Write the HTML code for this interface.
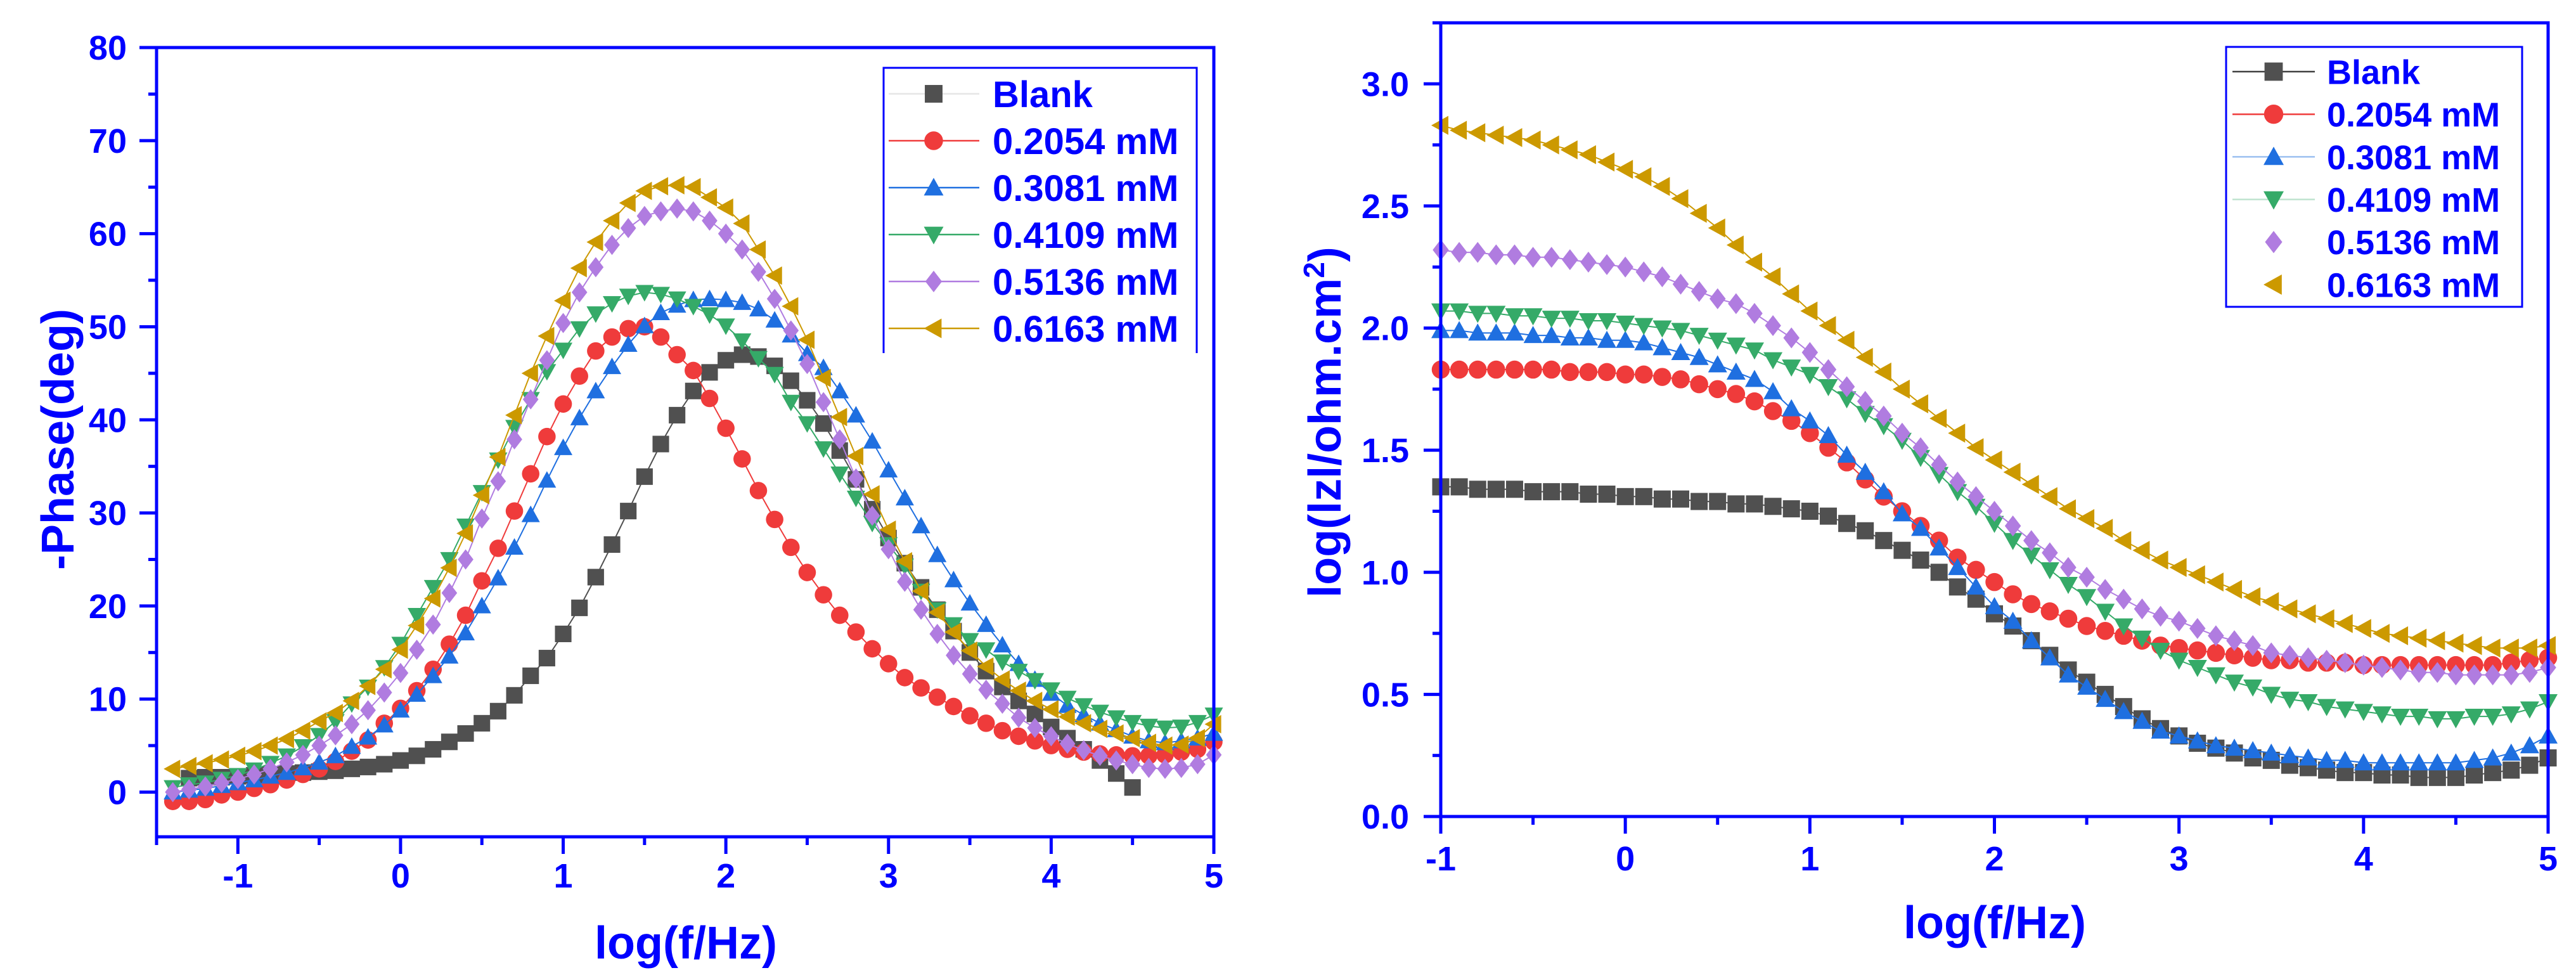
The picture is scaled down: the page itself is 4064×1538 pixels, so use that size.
<!DOCTYPE html>
<html><head><meta charset="utf-8"><style>
html,body{margin:0;padding:0;background:#fff;}
svg{display:block;font-family:"Liberation Sans",Arial,sans-serif;font-weight:bold;}
</style></head><body>
<svg id="chart" xmlns="http://www.w3.org/2000/svg" width="4064" height="1538" viewBox="0 0 4064 1538">
<rect x="0" y="0" width="4064" height="1538" fill="#fff"/>
</svg>
<script>
// ---------- data ----------
const seriesNames = ["Blank","0.2054 mM","0.3081 mM","0.4109 mM","0.5136 mM","0.6163 mM"];
const seriesColors = ["#505050","#ef3b3b","#1f6fe0","#35aa68","#b07ce0","#cc9900"];
const seriesMarkers = ["square","circle","up","down","diamond","left"];

// Phase plot: x starts (log f), step 0.1
const phaseStart = [-1.3,-1.4,-1.4,-1.4,-1.4,-1.4];
const phaseBlank = [1.5,1.6,1.6,1.7,1.8,1.9,2.0,2.1,2.2,2.3,2.5,2.7,3.0,3.4,3.9,4.6,5.4,6.3,7.4,8.7,10.4,12.5,14.4,17,19.8,23.1,26.6,30.2,33.9,37.4,40.5,43.1,45.1,46.4,47,46.8,45.8,44.2,42.1,39.6,36.7,33.6,30.4,27.3,24.6,22.0,19.6,17.3,15.0,13.0,11.3,9.8,8.4,7,5.8,4.6,3.4,2.0,0.5];
const phaseC1 = [-1.0,-1.0,-0.8,-0.3,0,0.4,0.8,1.3,1.9,2.5,3.3,4.4,5.6,7.4,9.0,10.9,13.2,15.9,19.0,22.7,26.2,30.2,34.2,38.2,41.7,44.7,47.4,48.9,49.8,50,48.9,47,45.3,42.3,39.1,35.8,32.4,29.3,26.3,23.6,21.2,19.0,17.2,15.4,13.8,12.3,11.2,10.2,9.2,8.2,7.4,6.6,6.0,5.5,5.0,4.6,4.3,4.1,4.0,3.9,3.9,4.0,4.3,4.6,5.4];
const phaseC2 = [0,0.2,0.4,0.7,1.0,1.3,1.7,2.1,2.6,3.2,3.9,4.9,5.9,7.2,8.8,10.5,12.5,14.6,17.1,20.0,23.0,26.3,29.8,33.5,37.0,40.2,43.1,45.7,48.1,50.1,51.5,52.3,52.9,53.0,52.9,52.6,51.9,50.7,49.1,47.1,45.6,43.1,40.5,37.7,34.6,31.6,28.6,25.5,22.8,20.3,18.0,15.8,13.8,12.1,10.6,9.3,8.3,7.4,6.7,6.0,5.5,5.3,5.5,5.8,6.3];
const phaseC3 = [0.5,0.8,1.0,1.4,1.8,2.4,3.1,3.9,4.9,6.1,7.6,9.5,11.3,13.4,15.9,19.0,22.0,25.0,28.6,32.2,35.7,39.2,42.2,45.2,47.5,49.8,51.4,52.5,53.3,53.7,53.5,53.0,52.2,51.3,50.1,48.5,46.6,44.9,41.9,39.6,36.9,34.2,31.6,28.9,26.6,24.3,21.6,19.6,18.0,16.3,15.3,14.0,13.0,12.0,11.0,10.1,9.3,8.6,8.0,7.5,7.1,6.9,7.0,7.5,8.3];
const phaseC4 = [0,0.3,0.6,1.0,1.4,1.9,2.5,3.2,4.0,5.0,6.1,7.3,8.8,10.7,12.8,15.3,18.0,21.4,25.0,29.4,33.4,37.9,42.2,46.4,50.4,53.7,56.4,58.8,60.6,61.9,62.4,62.7,62.4,61.4,60.0,58.3,55.9,53.0,49.6,46.0,41.9,37.9,33.7,29.7,26.1,22.6,19.6,17.0,14.7,12.7,11.0,9.5,8.0,6.9,6.0,5.2,4.5,3.9,3.4,3.0,2.6,2.5,2.6,3.0,4.0];
const phaseC5 = [2.5,2.8,3.1,3.5,3.9,4.4,5.0,5.7,6.6,7.6,8.5,9.8,11.4,13.2,15.3,17.9,20.8,24.1,27.8,31.9,36.0,40.5,45.0,49.0,52.8,56.3,59.1,61.4,63.3,64.6,65.1,65.2,65.0,63.9,62.8,61.1,58.3,55.5,52.2,48.6,44.5,40.3,36.1,32.0,28.2,24.8,21.6,19.3,17.2,15.2,13.5,12.1,10.9,9.8,8.9,8.1,7.4,6.8,6.3,5.8,5.3,5.0,5.1,5.8,7.3];

// Impedance plot: x from -1 to 5 step 0.1
const zStart = -1.0;
const zBlank = [1.35,1.35,1.34,1.34,1.34,1.33,1.33,1.33,1.32,1.32,1.31,1.31,1.30,1.30,1.29,1.29,1.28,1.28,1.27,1.26,1.25,1.23,1.20,1.17,1.13,1.09,1.05,1.00,0.94,0.89,0.83,0.78,0.72,0.66,0.60,0.55,0.50,0.45,0.40,0.36,0.33,0.30,0.28,0.26,0.24,0.23,0.21,0.20,0.19,0.18,0.18,0.17,0.17,0.16,0.16,0.16,0.17,0.18,0.19,0.21,0.24];
const zC1 = [1.83,1.83,1.83,1.83,1.83,1.83,1.83,1.82,1.82,1.82,1.81,1.81,1.80,1.79,1.77,1.75,1.73,1.70,1.66,1.62,1.57,1.51,1.45,1.38,1.31,1.25,1.19,1.13,1.06,1.01,0.96,0.91,0.87,0.84,0.81,0.78,0.76,0.74,0.72,0.70,0.69,0.68,0.67,0.66,0.65,0.64,0.64,0.63,0.63,0.63,0.62,0.62,0.62,0.62,0.62,0.62,0.62,0.62,0.63,0.64,0.65];
const zC2 = [1.99,1.99,1.98,1.98,1.98,1.97,1.97,1.96,1.96,1.95,1.95,1.94,1.92,1.90,1.88,1.85,1.82,1.79,1.74,1.67,1.62,1.56,1.48,1.41,1.33,1.24,1.18,1.10,1.02,0.94,0.86,0.80,0.72,0.65,0.58,0.53,0.48,0.43,0.39,0.35,0.33,0.31,0.29,0.28,0.27,0.26,0.25,0.24,0.23,0.23,0.22,0.22,0.22,0.22,0.22,0.22,0.23,0.24,0.26,0.29,0.33];
const zC3 = [2.07,2.07,2.06,2.06,2.05,2.05,2.04,2.04,2.03,2.03,2.02,2.01,2.00,1.99,1.97,1.95,1.93,1.91,1.87,1.84,1.81,1.76,1.71,1.65,1.60,1.54,1.47,1.40,1.33,1.27,1.20,1.13,1.07,1.01,0.95,0.90,0.84,0.78,0.73,0.68,0.64,0.61,0.58,0.55,0.53,0.50,0.48,0.47,0.45,0.44,0.43,0.42,0.41,0.41,0.40,0.40,0.41,0.41,0.42,0.44,0.47];
const zC4 = [2.32,2.31,2.31,2.30,2.30,2.29,2.29,2.28,2.27,2.26,2.25,2.23,2.21,2.18,2.15,2.12,2.10,2.06,2.01,1.96,1.90,1.83,1.76,1.70,1.64,1.57,1.51,1.44,1.37,1.31,1.25,1.19,1.13,1.08,1.02,0.98,0.93,0.89,0.85,0.82,0.80,0.77,0.74,0.72,0.70,0.67,0.66,0.65,0.64,0.63,0.62,0.61,0.60,0.59,0.59,0.58,0.58,0.58,0.58,0.59,0.61];
const zC5 = [2.83,2.81,2.80,2.79,2.78,2.77,2.75,2.73,2.71,2.68,2.65,2.62,2.58,2.53,2.47,2.41,2.34,2.27,2.21,2.14,2.07,2.01,1.95,1.88,1.82,1.75,1.69,1.63,1.57,1.51,1.46,1.41,1.36,1.31,1.26,1.22,1.18,1.13,1.09,1.05,1.02,0.99,0.96,0.93,0.90,0.88,0.85,0.83,0.81,0.79,0.77,0.75,0.74,0.73,0.72,0.71,0.70,0.69,0.69,0.69,0.70];

const phaseXTicks = [-1,0,1,2,3,4,5];
const phaseYTicks = [0,10,20,30,40,50,60,70,80];
const zXTicks = [-1,0,1,2,3,4,5];
const zYTicks = [0.0,0.5,1.0,1.5,2.0,2.5,3.0];

// ---------- drawing ----------
const NS = "http://www.w3.org/2000/svg";
const svg = document.getElementById("chart");
const AX = "#0000ff";
function mk(tag, attrs, parent){
  const e = document.createElementNS(NS, tag);
  for (const k in attrs) e.setAttribute(k, attrs[k]);
  (parent||svg).appendChild(e);
  return e;
}
function marker(g, type, cx, cy, s, color){
  const h = s/2;
  let e;
  if (type==="square") e = mk("rect",{x:cx-h*0.9,y:cy-h*0.9,width:s*0.9,height:s*0.9,fill:color},g);
  else if (type==="circle") e = mk("circle",{cx:cx,cy:cy,r:h*0.95,fill:color},g);
  else if (type==="up") e = mk("polygon",{points:`${cx},${cy-h} ${cx+h},${cy+h*0.8} ${cx-h},${cy+h*0.8}`,fill:color},g);
  else if (type==="down") e = mk("polygon",{points:`${cx},${cy+h} ${cx+h},${cy-h*0.8} ${cx-h},${cy-h*0.8}`,fill:color},g);
  else if (type==="diamond") e = mk("polygon",{points:`${cx},${cy-h*1.1} ${cx+h*0.85},${cy} ${cx},${cy+h*1.1} ${cx-h*0.85},${cy}`,fill:color},g);
  else e = mk("polygon",{points:`${cx-h},${cy} ${cx+h*0.8},${cy-h} ${cx+h*0.8},${cy+h}`,fill:color},g);
  return e;
}

function drawPanel(cfg){
  const {x0,x1,y0,y1,xmin,xmax,ymin,ymax} = cfg;
  const sx = v => x0 + (v-xmin)/(xmax-xmin)*(x1-x0);
  const sy = v => y1 - (v-ymin)/(ymax-ymin)*(y1-y0);
  const panel = mk("g",{});
  
  

  cfg.series.forEach((vals, si) => {
    const g = mk("g",{},panel);
    
    
    const st = cfg.starts[si];
    const pts = vals.map((v,i)=>[sx(st+i*0.1), sy(v)]);
    const line = mk("polyline",{points:pts.map(p=>p[0].toFixed(1)+","+p[1].toFixed(1)).join(" "),fill:"none",stroke:seriesColors[si],"stroke-width":2},g);
    
    
    pts.forEach(p=>{
      if (p[0] < x0-2 || p[0] > x1+2) return;
      const m = marker(g, seriesMarkers[si], p[0], p[1], cfg.ms, seriesColors[si]);
      
      
    });
  });

  const frame = mk("rect",{x:x0,y:y0,width:x1-x0,height:y1-y0,fill:"none",stroke:AX,"stroke-width":5},panel);
  
  

  const xg = mk("g",{},panel);
  
  
  for (let v = Math.ceil(xmin*2)/2; v <= xmax+1e-9; v += 0.5){
    const major = Math.abs(v-Math.round(v))<1e-9;
    mk("line",{x1:sx(v),x2:sx(v),y1:y1,y2:y1+(major?27:13),stroke:AX,"stroke-width":5},xg);
  }
  cfg.xticks.forEach(v=>{
    const t = mk("text",{x:sx(v),y:cfg.xlabY,"text-anchor":"middle","font-size":54,fill:AX},xg);
    t.textContent = String(v);
    
    
  });
  const yg = mk("g",{},panel);
  
  
  for (let v = Math.ceil(ymin/cfg.minor)*cfg.minor; v <= ymax+1e-9; v += cfg.minor){
    const major = Math.abs(v/cfg.major - Math.round(v/cfg.major))<1e-6;
    mk("line",{x1:x0-(major?27:13),x2:x0,y1:sy(v),y2:sy(v),stroke:AX,"stroke-width":5},yg);
  }
  cfg.yticks.forEach(v=>{
    const t = mk("text",{x:cfg.ylabX,y:sy(v)+19,"text-anchor":"end","font-size":54,fill:AX},yg);
    t.textContent = cfg.yfmt(v);
    
    
  });
  const xt = mk("text",{x:cfg.xtX,y:cfg.xtY,"text-anchor":"middle","font-size":72,fill:AX},panel);
  xt.textContent = "log(f/Hz)";
  
  
  const yt = mk("text",{x:0,y:0,"text-anchor":"middle","font-size":72,fill:AX,transform:`translate(${cfg.ytX},${cfg.ytY}) rotate(-90)`},panel);
  
  
  if (cfg.ytSup){
    yt.appendChild(document.createTextNode(cfg.ytitle));
    const sup = mk("tspan",{"baseline-shift":"super","font-size":46},yt);
    sup.textContent = "2";
    yt.appendChild(document.createTextNode(")"));
  } else yt.textContent = cfg.ytitle;

  const L = cfg.legend;
  const lg = mk("g",{},panel);
  
  
  mk("rect",{x:L.x,y:L.y,width:L.w,height:L.h,fill:"#fff",stroke:"none"},lg);
  if (L.openBottom){
    mk("polyline",{points:`${L.x},${L.y+L.h} ${L.x},${L.y} ${L.x+L.w},${L.y} ${L.x+L.w},${L.y+L.h}`,fill:"none",stroke:AX,"stroke-width":3},lg);
  } else {
    mk("rect",{x:L.x,y:L.y,width:L.w,height:L.h,fill:"none",stroke:AX,"stroke-width":3},lg);
  }
  seriesNames.forEach((n,i)=>{
    const yy = L.ey0 + i*L.dy;
    const e = mk("g",{},lg);
    
    
    const lc = L.lineColors[i];
    if (lc) mk("line",{x1:L.lx1,x2:L.lx2,y1:yy,y2:yy,stroke:lc,"stroke-width":2.5},e);
    marker(e, seriesMarkers[i], L.mx, yy, cfg.ms+2, seriesColors[i]);
    const t = mk("text",{x:L.tx,y:yy+L.fs*0.36,"font-size":L.fs,fill:AX},e);
    t.textContent = n;
  });
}

drawPanel({
  name:"phase-plot", x0:247,x1:1915,y0:75,y1:1320,xmin:-1.5,xmax:5,ymin:-4.8,ymax:80,
  series:[phaseBlank,phaseC1,phaseC2,phaseC3,phaseC4,phaseC5], starts:phaseStart, ms:29,
  xticks:phaseXTicks, yticks:phaseYTicks, minor:5, major:10, yfmt:v=>String(v),
  xlabY:1400, ylabX:200, xtX:1082, xtY:1512, ytX:116, ytY:693, ytitle:"-Phase(deg)",
  legend:{x:1394,y:107,w:494,h:450,openBottom:true,ey0:148,dy:74,lx1:1402,lx2:1545,mx:1473,tx:1566,fs:58,
          lineColors:["#e6e6e6","#ef3b3b","#1f6fe0","#35aa68","#b07ce0","#cc9900"]}
});
drawPanel({
  name:"impedance-plot", x0:2273,x1:4020,y0:36,y1:1288,xmin:-1,xmax:5,ymin:0,ymax:3.25,
  series:[zBlank,zC1,zC2,zC3,zC4,zC5], starts:[zStart,zStart,zStart,zStart,zStart,zStart], ms:30,
  xticks:zXTicks, yticks:zYTicks, minor:0.25, major:0.5, yfmt:v=>v.toFixed(1),
  xlabY:1373, ylabX:2223, xtX:3147, xtY:1480, ytX:2115, ytY:666, ytitle:"log(lzl/ohm.cm", ytSup:true,
  legend:{x:3512,y:74,w:467,h:410,openBottom:false,ey0:113,dy:67.2,lx1:3522,lx2:3652,mx:3587,tx:3671,fs:54,
          lineColors:["#404040","#ef3b3b","#9cc0f0","#bfe3cf",null,null]}
});
</script>
</body></html>
